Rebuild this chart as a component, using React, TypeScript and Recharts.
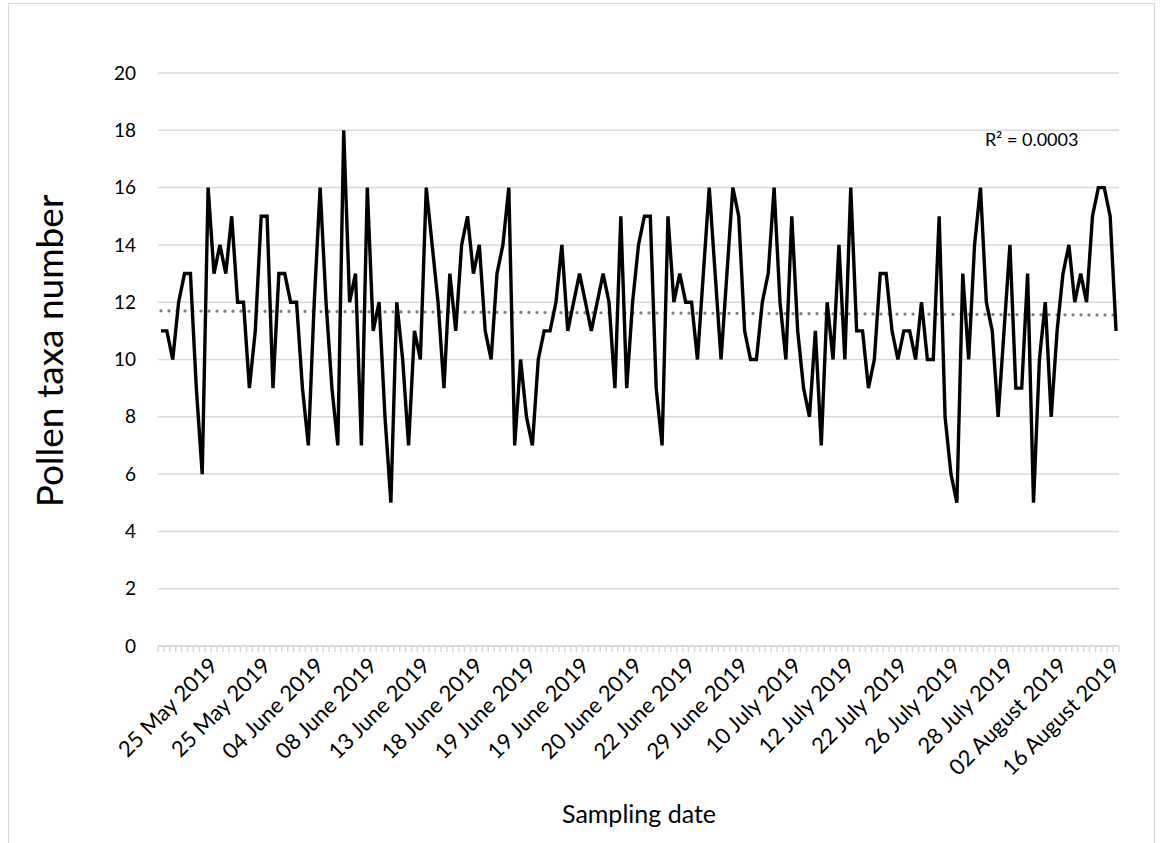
import React from 'react';
import { LineChart, Line, XAxis, YAxis, CartesianGrid } from 'recharts';

// pollen taxa counted per sample, in sampling order
const pollenTaxa = [
  11, 11, 10, 12, 13, 13, 9, 6, 16, 13,
  14, 13, 15, 12, 12, 9, 11, 15, 15, 9,
  13, 13, 12, 12, 9, 7, 12, 16, 12, 9,
  7, 18, 12, 13, 7, 16, 11, 12, 8, 5,
  12, 10, 7, 11, 10, 16, 14, 12, 9, 13,
  11, 14, 15, 13, 14, 11, 10, 13, 14, 16,
  7, 10, 8, 7, 10, 11, 11, 12, 14, 11,
  12, 13, 12, 11, 12, 13, 12, 9, 15, 9,
  12, 14, 15, 15, 9, 7, 15, 12, 13, 12,
  12, 10, 13, 16, 13, 10, 13, 16, 15, 11,
  10, 10, 12, 13, 16, 12, 10, 15, 11, 9,
  8, 11, 7, 12, 10, 14, 10, 16, 11, 11,
  9, 10, 13, 13, 11, 10, 11, 11, 10, 12,
  10, 10, 15, 8, 6, 5, 13, 10, 14, 16,
  12, 11, 8, 11, 14, 9, 9, 13, 5, 10,
  12, 8, 11, 13, 14, 12, 13, 12, 15, 16,
  16, 15, 11,
];

// date labels shown on every 9th sample
const tickLabels = [
  '25 May 2019', '25 May 2019', '04 June 2019', '08 June 2019', '13 June 2019',
  '18 June 2019', '19 June 2019', '19 June 2019', '20 June 2019', '22 June 2019',
  '29 June 2019', '10 July 2019', '12 July 2019', '22 July 2019', '26 July 2019',
  '28 July 2019', '02 August 2019', '16 August 2019',
];
const labelStep = 9;
const yTicks = [0, 2, 4, 6, 8, 10, 12, 14, 16, 18, 20];
const rSquaredText = 'R² = 0.0003';

// linear trend (least squares)
const n = pollenTaxa.length;
const meanX = (n - 1) / 2;
const meanY = pollenTaxa.reduce((s, v) => s + v, 0) / n;
let sxy = 0;
let sxx = 0;
pollenTaxa.forEach((v, i) => {
  sxy += (i - meanX) * (v - meanY);
  sxx += (i - meanX) * (i - meanX);
});
const slope = sxy / sxx;

const chartData = pollenTaxa.map((v, i) => ({
  idx: i,
  taxa: v,
  trend: meanY + slope * (i - meanX),
}));

const W = 1164;
const H = 843;
const margin = { top: 73, right: 45, bottom: 87, left: 98 };
const yAxisWidth = 60;
const xAxisHeight = 110;
const plotWidth = W - margin.left - margin.right - yAxisWidth;
const step = plotWidth / n;
const FONT = 'Lato, "Open Sans", sans-serif';

const DateTick = (props: any) => {
  const { x, y, payload } = props;
  const i = Number(payload.value);
  const half = step / 2;
  const label = i > 0 && i % labelStep === 0 ? tickLabels[i / labelStep - 1] : null;
  const ax = x + 5;
  const ay = y + 21;
  return (
    <g>
      <line x1={x - half} x2={x - half} y1={y} y2={y + 6} stroke="#d9d9d9" strokeWidth={1.5} />
      {i === n - 1 && (
        <line x1={x + half} x2={x + half} y1={y} y2={y + 6} stroke="#d9d9d9" strokeWidth={1.5} />
      )}
      {label && (
        <text
          x={ax}
          y={ay}
          transform={`rotate(-45 ${ax} ${ay})`}
          textAnchor="end"
          fontSize={22}
          fontFamily={FONT}
          fill="#000"
        >
          {label}
        </text>
      )}
    </g>
  );
};

const ValueTick = (props: any) => {
  const { x, y, payload } = props;
  return (
    <text x={x} y={y} dy="0.35em" textAnchor="end" fontSize={19} fontFamily={FONT} fill="#000">
      {payload.value}
    </text>
  );
};

export default function App() {
  return (
    <div style={{ position: 'absolute', left: 0, top: 0, width: W, height: H, background: '#fff', overflow: 'hidden' }}>
      <div
        style={{
          position: 'absolute',
          left: 8,
          top: 3,
          width: 1147,
          height: 845,
          border: '1px solid #d9d9d9',
          boxSizing: 'border-box',
        }}
      />
      <LineChart width={W} height={H} data={chartData} margin={margin}>
        <CartesianGrid vertical={false} stroke="#d9d9d9" strokeWidth={1.5} />
        <XAxis
          dataKey="idx"
          type="category"
          interval={0}
          height={xAxisHeight}
          padding={{ left: step / 2, right: step / 2 }}
          axisLine={{ stroke: '#d9d9d9', strokeWidth: 2 }}
          tickLine={false}
          tickSize={0}
          tickMargin={0}
          tick={<DateTick />}
        />
        <YAxis
          domain={[0, 20]}
          ticks={yTicks}
          width={yAxisWidth}
          axisLine={false}
          tickLine={false}
          tickSize={0}
          tickMargin={22}
          tick={<ValueTick />}
        />
        <Line
          dataKey="trend"
          stroke="#7f7f7f"
          strokeWidth={3.2}
          strokeDasharray="0.1 7.9"
          strokeLinecap="round"
          dot={false}
          isAnimationActive={false}
        />
        <Line
          dataKey="taxa"
          stroke="#000"
          strokeWidth={3.4}
          dot={false}
          isAnimationActive={false}
        />
      </LineChart>
      <div
        style={{
          position: 'absolute',
          left: 985,
          top: 128,
          fontSize: 18,
          fontFamily: FONT,
          color: '#000',
          whiteSpace: 'nowrap',
        }}
      >
        {rSquaredText}
      </div>
      <div
        style={{
          position: 'absolute',
          left: 639,
          top: 798,
          transform: 'translateX(-50%)',
          fontSize: 25,
          fontFamily: FONT,
          color: '#000',
          whiteSpace: 'nowrap',
        }}
      >
        Sampling date
      </div>
      <div
        style={{
          position: 'absolute',
          left: 48,
          top: 351,
          transform: 'translate(-50%, -50%) rotate(-90deg)',
          fontSize: 37,
          fontFamily: FONT,
          color: '#000',
          whiteSpace: 'nowrap',
        }}
      >
        Pollen taxa number
      </div>
    </div>
  );
}
